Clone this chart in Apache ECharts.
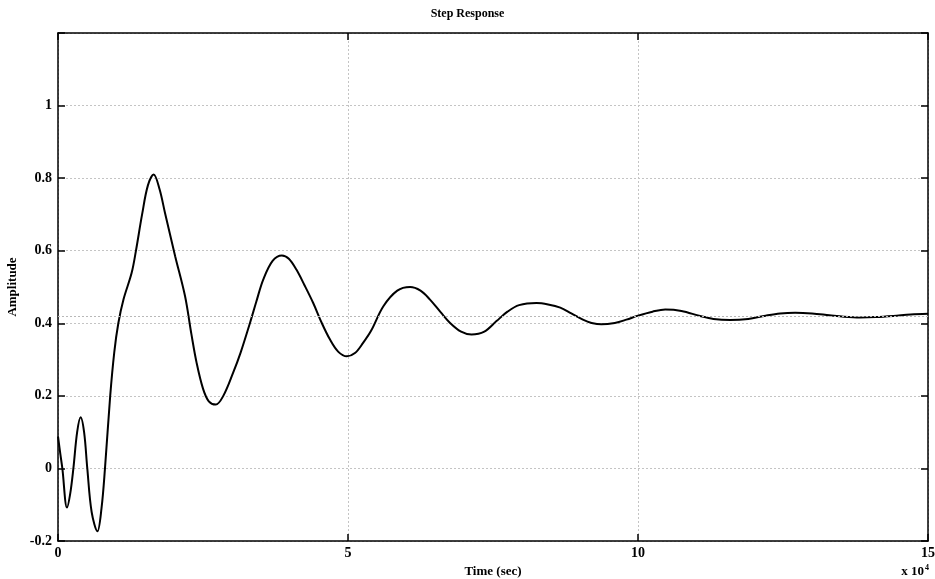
<!DOCTYPE html>
<html><head><meta charset="utf-8">
<script src="https://cdn.jsdelivr.net/npm/echarts@6/dist/echarts.min.js"></script>
<style>html,body{margin:0;padding:0;background:#fff}#c{width:935px;height:579px}</style>
</head><body><div id="c"></div>
<script>
const timeVals = [0,0.04,0.075,0.155,0.21,0.265,0.33,0.39,0.45,0.505,0.58,0.68,0.75,0.81,0.90,0.97,1.04,1.13,1.27,1.345,1.45,1.55,1.65,1.75,1.845,2.02,2.19,2.3,2.39,2.5,2.6,2.72,2.85,3.02,3.15,3.31,3.42,3.54,3.70,3.86,3.98,4.11,4.25,4.40,4.55,4.69,4.83,4.98,5.12,5.26,5.40,5.61,5.85,6.07,6.25,6.41,6.6,6.76,6.95,7.13,7.35,7.56,7.75,7.95,8.25,8.45,8.66,8.85,9.05,9.2,9.37,9.6,9.8,10.0,10.25,10.47,10.75,11.07,11.3,11.59,11.9,12.2,12.45,12.71,13.0,13.3,13.55,13.83,14.1,14.4,14.7,15];
const ampVals = [0.088,0.04,0.0,-0.108,-0.07,0.0,0.10,0.141,0.10,0.0,-0.12,-0.173,-0.11,0.0,0.2,0.32,0.40,0.466,0.539,0.601,0.70,0.78,0.81,0.77,0.704,0.585,0.475,0.37,0.291,0.22,0.185,0.176,0.20,0.264,0.32,0.401,0.46,0.521,0.572,0.587,0.578,0.548,0.505,0.456,0.40,0.355,0.322,0.309,0.318,0.346,0.38,0.447,0.49,0.50,0.49,0.466,0.43,0.401,0.377,0.369,0.377,0.406,0.432,0.45,0.456,0.452,0.443,0.427,0.41,0.401,0.397,0.401,0.41,0.421,0.432,0.438,0.434,0.42,0.412,0.409,0.412,0.421,0.427,0.429,0.427,0.422,0.418,0.416,0.417,0.42,0.424,0.426];
const steadyState = 0.422;
const xTicks = [0,5,10,15];
const yTicks = [-0.2,0,0.2,0.4,0.6,0.8,1];

const font = '"Liberation Serif", "Times New Roman", serif';
const chart = echarts.init(document.getElementById('c'));
const gridStyle = {show:true, lineStyle:{color:'#c4c4c4', type:[2,2], width:1}};
const axLine = {show:true, onZero:false, lineStyle:{color:'#000', width:1.5}};
const axTick = {show:true, inside:true, length:7, lineStyle:{color:'#000', width:1.5}};
chart.setOption({
  animation:false,
  title:{text:'Step Response', left:'center', top:3, textStyle:{fontFamily:font, fontWeight:'bold', fontSize:12, color:'#000'}},
  grid:{left:58, right:7, top:33, bottom:38, outerBoundsMode:'none', containLabel:false},
  xAxis:[{
    type:'value', min:0, max:15, interval:5, position:'bottom',
    axisLine:axLine, axisTick:axTick,
    axisLabel:{fontFamily:font, fontWeight:'bold', fontSize:14, color:'#000', margin:5,
      formatter:v=>xTicks.includes(v)?String(v):''},
    splitLine:gridStyle,
    name:'Time (sec)', nameLocation:'middle', nameGap:18,
    nameTextStyle:{fontFamily:font, fontWeight:'bold', fontSize:13, color:'#000'}
  },{
    type:'value', min:0, max:15, interval:5, position:'top',
    axisLine:axLine, axisTick:axTick,
    axisLabel:{show:false}, splitLine:{show:false}
  }],
  yAxis:[{
    type:'value', min:-0.2, max:1.2, interval:0.2, position:'left',
    axisLine:axLine, axisTick:axTick,
    axisLabel:{fontFamily:font, fontWeight:'bold', fontSize:14, color:'#000', margin:6,
      formatter:v=>{const r=Math.round(v*10)/10; return yTicks.includes(r)?String(r):'';}},
    splitLine:gridStyle,
    name:'Amplitude', nameLocation:'middle', nameGap:34,
    nameTextStyle:{fontFamily:font, fontWeight:'bold', fontSize:13, color:'#000'}
  },{
    type:'value', min:-0.2, max:1.2, interval:0.2, position:'right',
    axisLine:axLine, axisTick:axTick,
    axisLabel:{show:false}, splitLine:{show:false}
  }],
  series:[{
    type:'line', xAxisIndex:0, yAxisIndex:0, smooth:0.35, showSymbol:false,
    data:timeVals.map((t,i)=>[t, ampVals[i]]),
    lineStyle:{color:'#000', width:2},
    markLine:{silent:true, symbol:'none', label:{show:false},
      lineStyle:{color:'#b8b8b8', type:[2,2], width:1},
      data:[{yAxis:steadyState}]}
  },{
    type:'line', xAxisIndex:1, yAxisIndex:1, data:[], showSymbol:false
  }],
  graphic:[{
    type:'text', right:6, top:564,
    style:{text:'{a|x 10}{b|4}', rich:{
      a:{fontFamily:font, fontWeight:'bold', fontSize:13, fill:'#000'},
      b:{fontFamily:font, fontWeight:'bold', fontSize:8, fill:'#000', verticalAlign:'top', padding:[0,0,8,1]}
    }}
  }]
});
</script></body></html>
